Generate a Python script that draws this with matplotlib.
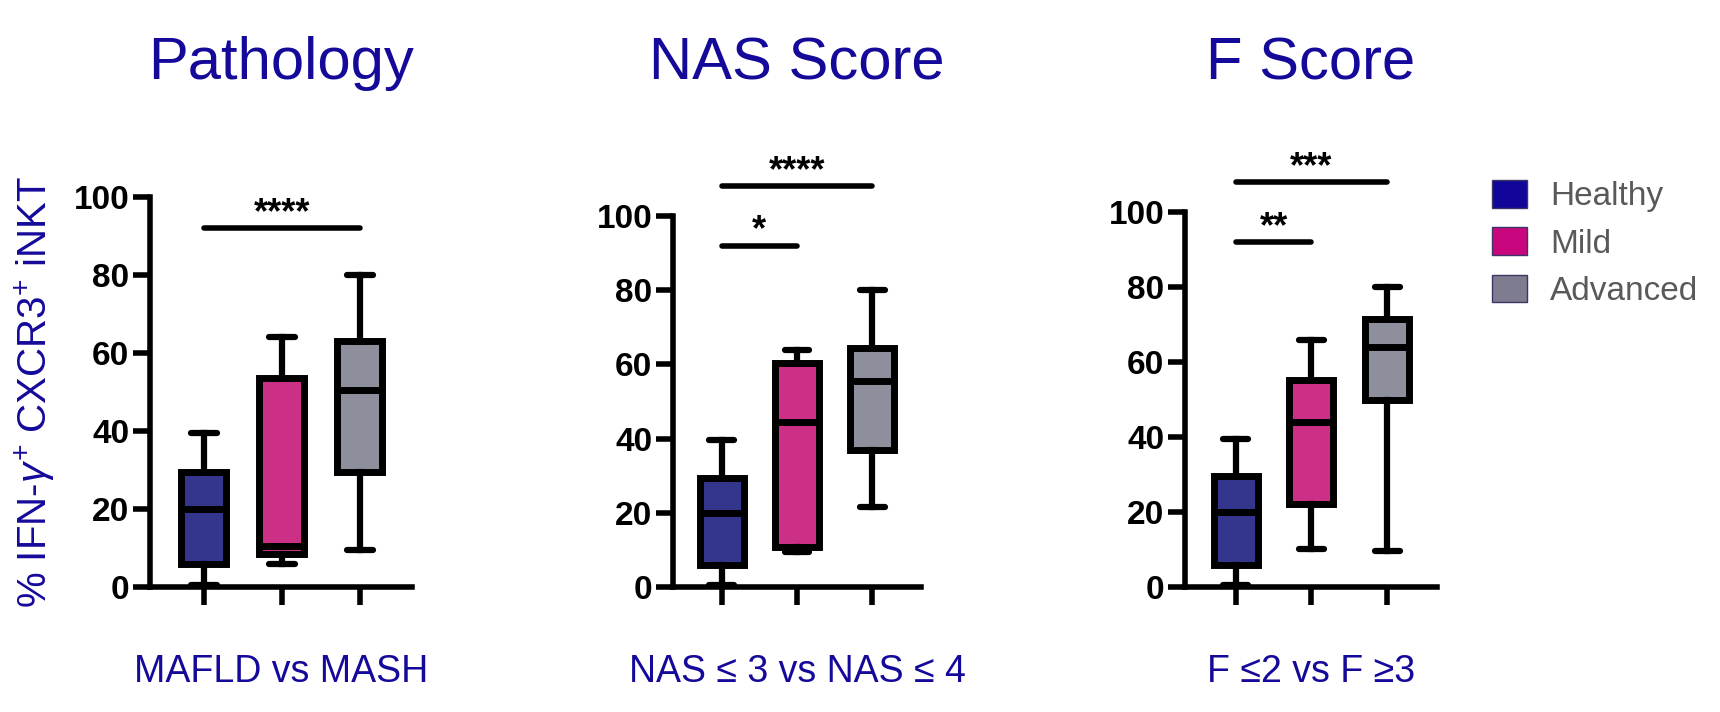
import matplotlib
matplotlib.use("Agg")
import matplotlib.pyplot as plt
from matplotlib.patches import Patch

groups = ["Healthy", "Mild", "Advanced"]
titles = ["Pathology", "NAS Score", "F Score"]
subtitles = ["MAFLD vs MASH", "NAS ≤ 3 vs NAS ≤ 4", "F ≤2 vs F ≥3"]
ylabel = r"% IFN-$\gamma^{+}$ CXCR3$^{+}$ iNKT"
yticks = [0, 20, 40, 60, 80, 100]

# whisker low, q1, median, q3, whisker high  (per group)
pathology = [[0.5, 6, 20, 29.5, 39.5], [6, 8.5, 10.5, 53.5, 64], [9.5, 29.5, 50.5, 63, 80]]
nas = [[0.5, 6, 20, 29.5, 39.5], [9.3, 10.8, 44.5, 60.5, 64], [21.5, 37, 55.5, 64.5, 80]]
fscore = [[0.5, 6, 20, 29.5, 39.5], [10.2, 22.2, 44, 55.3, 66], [9.5, 50, 64, 71.5, 80]]

# comparisons: (group a, group b, bar height, stars)
pathology_sig = [(0, 2, 92, "****")]
nas_sig = [(0, 1, 92, "*"), (0, 2, 108, "****")]
fscore_sig = [(0, 1, 92, "**"), (0, 2, 108, "***")]

box_colors = ["#33368c", "#cc2f86", "#8e8f9c"]
legend_colors = ["#12069a", "#c8077f", "#7e7d8f"]
BLUE = "#15099a"

W, H = 1720, 712
# axes rectangles in pixels: left, right, top, bottom
rects = [(150, 412, 197, 587), (673, 921, 216, 587), (1185, 1437, 212, 587)]
xlims = [(-0.69, 2.67), (-0.65, 2.65), (-0.67, 2.66)]


def to_stats(rows):
    return [dict(whislo=r[0], q1=r[1], med=r[2], q3=r[3], whishi=r[4], fliers=[]) for r in rows]


def main():
    plt.rcParams["font.family"] = ["Liberation Sans", "DejaVu Sans"]
    plt.rcParams["mathtext.fontset"] = "custom"
    plt.rcParams["mathtext.rm"] = "Liberation Sans"
    plt.rcParams["mathtext.it"] = "Liberation Sans:italic"

    fig = plt.figure(figsize=(W / 100, H / 100), dpi=100)

    panels = [pathology, nas, fscore]
    sigs = [pathology_sig, nas_sig, fscore_sig]
    lw = 5.0

    for i, (data, sig) in enumerate(zip(panels, sigs)):
        l, r, t, b = rects[i]
        ax = fig.add_axes([l / W, 1 - b / H, (r - l) / W, (b - t) / H])
        bp = ax.bxp(to_stats(data), positions=[0, 1, 2], widths=0.58, capwidths=0.33,
                    patch_artist=True, showfliers=False,
                    boxprops=dict(linewidth=lw, edgecolor="black", joinstyle="miter"),
                    whiskerprops=dict(linewidth=4.5, color="black"),
                    capprops=dict(linewidth=4.5, color="black", solid_capstyle="round"),
                    medianprops=dict(linewidth=lw, color="black"))
        for patch, c in zip(bp["boxes"], box_colors):
            patch.set_facecolor(c)

        ax.set_xlim(*xlims[i])
        ax.set_ylim(0, 100)
        for s in ["top", "right"]:
            ax.spines[s].set_visible(False)
        for s in ["left", "bottom"]:
            ax.spines[s].set_linewidth(4)
        ax.set_yticks(yticks, [str(v) for v in yticks], fontweight="bold", fontsize=24)
        ax.set_xticks([0, 1, 2], ["", "", ""])
        ax.tick_params(axis="y", length=12, width=4, pad=3)
        ax.tick_params(axis="x", length=13, width=4)

        for a, bb, h, stars in sig:
            ax.plot([a, bb], [h, h], color="black", lw=4, clip_on=False, solid_capstyle="round")
            ax.text((a + bb) / 2, h + 1.4, stars, ha="center", va="baseline",
                    fontsize=26, fontweight="bold", clip_on=False)

        cx = (l + r) / 2 / W
        fig.text(cx, 1 - 79 / H, titles[i], ha="center", va="baseline", fontsize=43, color=BLUE)
        fig.text(cx, 1 - 682 / H, subtitles[i], ha="center", va="baseline", fontsize=27, color=BLUE)

    l, r, t, b = rects[0]
    fig.text(35 / W, 1 - (t + b) / 2 / H, ylabel, rotation=90, ha="center", va="center",
             fontsize=29, color=BLUE)

    handles = [Patch(facecolor=c, edgecolor="#3d3566", linewidth=1) for c in legend_colors]
    fig.legend(handles, groups, loc="upper left", bbox_to_anchor=(1492 / W, 1 - 180 / H),
               frameon=False, fontsize=24, labelcolor="#595959", handlelength=1.05,
               handleheight=0.9, handletextpad=0.7, labelspacing=0.45,
               borderaxespad=0, borderpad=0)

    fig.savefig("out.png", dpi=100)


if __name__ == "__main__":
    main()
